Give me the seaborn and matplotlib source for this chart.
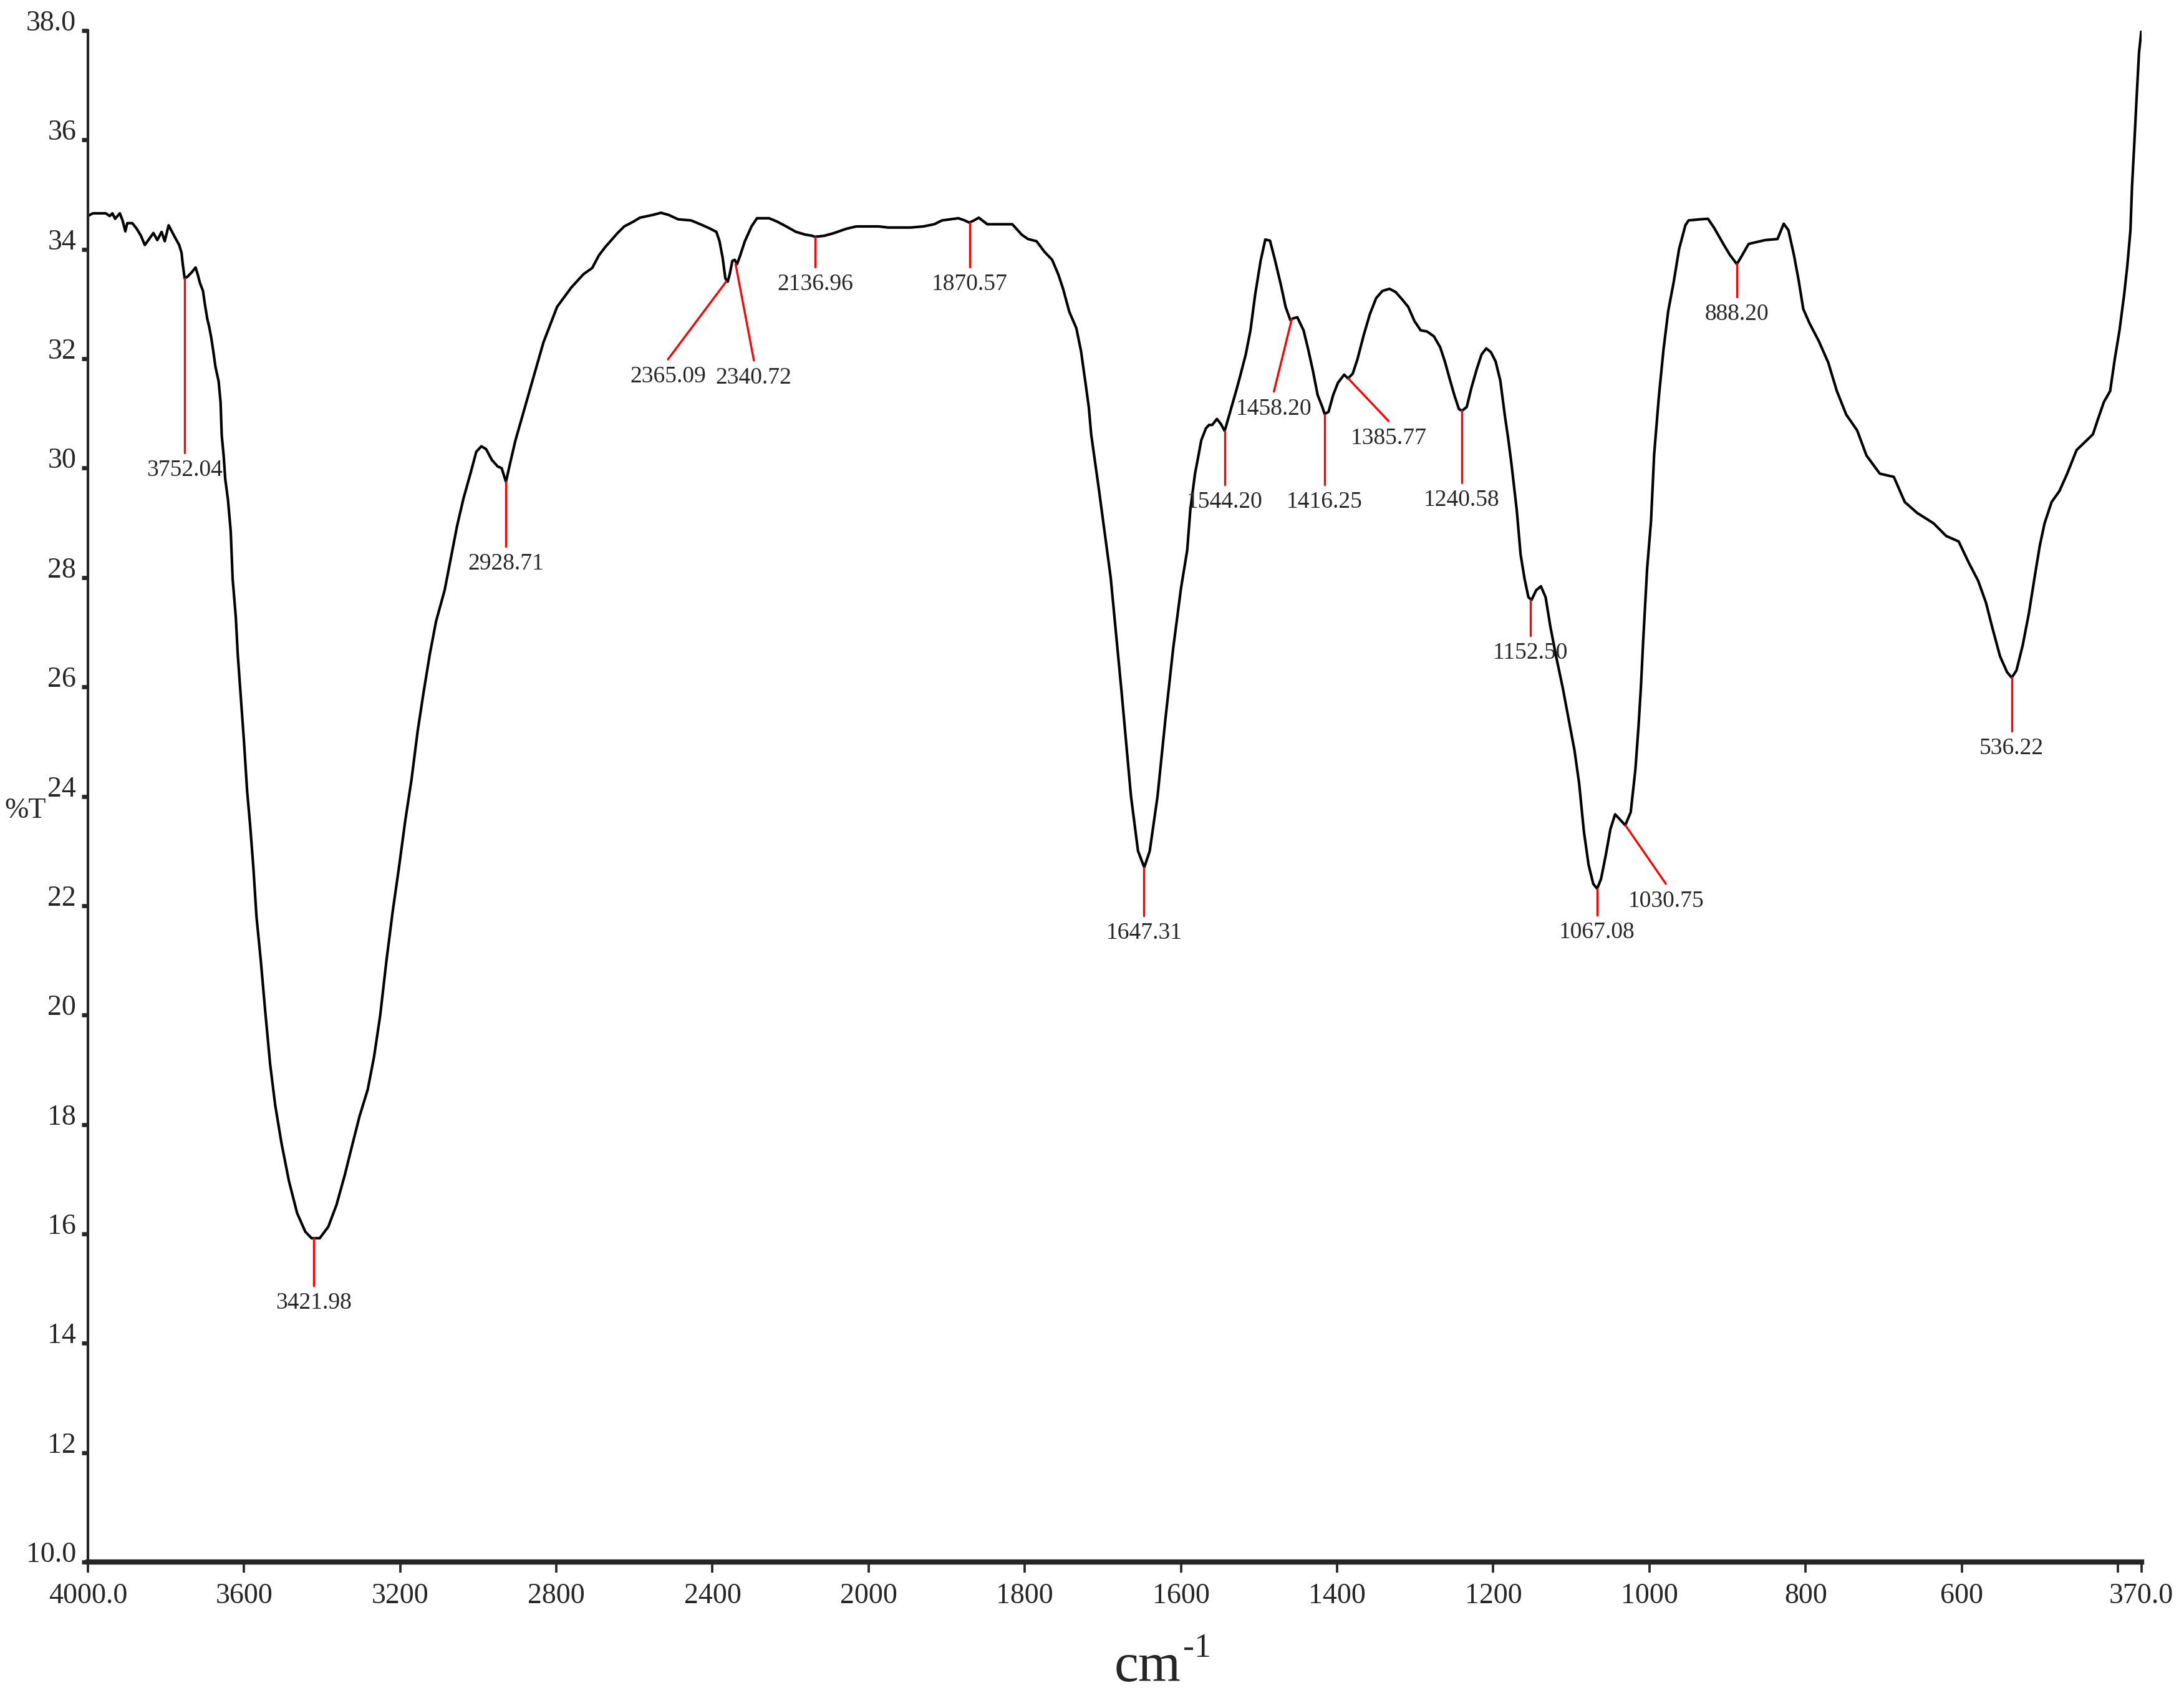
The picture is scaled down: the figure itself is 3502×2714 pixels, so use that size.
import numpy as np
import seaborn as sns
import matplotlib.pyplot as plt
from matplotlib.ticker import FixedLocator, FixedFormatter

# spectrum (cm-1, %T)
wavenumber = [4000, 3987, 3954, 3944, 3937, 3930, 3918, 3911, 3904, 3899, 3886, 3875, 3864, 3854,
              3843, 3832, 3822, 3811, 3803, 3793, 3779, 3766, 3760, 3757, 3752, 3745, 3734, 3724,
              3718, 3713, 3705, 3700, 3694, 3689, 3684, 3679, 3673, 3665, 3660, 3657, 3652, 3648,
              3641, 3634, 3629, 3621, 3616, 3608, 3600, 3592, 3584, 3576, 3568, 3557, 3546, 3533,
              3520, 3504, 3485, 3464, 3443, 3427, 3406, 3384, 3363, 3342, 3320, 3304, 3283, 3267,
              3251, 3235, 3219, 3203, 3187, 3171, 3155, 3140, 3124, 3108, 3086, 3070, 3054, 3038,
              3020, 3005, 2992, 2980, 2965, 2950, 2940, 2929, 2918, 2905, 2869, 2833, 2798, 2762,
              2730, 2708, 2691, 2675, 2659, 2643, 2626, 2602, 2586, 2553, 2532, 2512, 2488, 2455,
              2431, 2406, 2390, 2382, 2374, 2367, 2361, 2356, 2349, 2343, 2337, 2329, 2317, 2300,
              2286, 2255, 2235, 2211, 2186, 2162, 2145, 2137, 2113, 2088, 2056, 2031, 2000, 1987,
              1975, 1946, 1930, 1916, 1906, 1885, 1877, 1871, 1865, 1859, 1848, 1816, 1804, 1796,
              1785, 1775, 1765, 1757, 1751, 1743, 1734, 1728, 1722, 1718, 1715, 1705, 1690, 1676,
              1664, 1655, 1647, 1640, 1630, 1620, 1610, 1600, 1592, 1588, 1582, 1578, 1574, 1568,
              1564, 1560, 1554, 1549, 1544, 1537, 1529, 1525, 1517, 1511, 1505, 1498, 1492, 1486,
              1480, 1472, 1466, 1460, 1456, 1451, 1443, 1437, 1431, 1425, 1419, 1416, 1411, 1405,
              1399, 1391, 1386, 1380, 1374, 1366, 1358, 1350, 1342, 1333, 1325, 1317, 1309, 1301,
              1293, 1285, 1276, 1268, 1262, 1256, 1250, 1244, 1240, 1234, 1228, 1221, 1215, 1209,
              1203, 1197, 1191, 1185, 1181, 1177, 1170, 1165, 1160, 1155, 1151, 1145, 1139, 1133,
              1127, 1120, 1111, 1104, 1096, 1090, 1084, 1078, 1072, 1067, 1062, 1056, 1050, 1044,
              1038, 1031, 1024, 1018, 1014, 1011, 1008, 1003, 998, 994, 988, 982, 976, 969, 962,
              954, 950, 935, 925, 917, 905, 897, 888, 881, 873, 864, 852, 836, 828, 822, 815, 809,
              803, 795, 783, 771, 760, 748, 734, 722, 705, 687, 673, 657, 636, 620, 604, 591, 579,
              569, 561, 551, 542, 536, 530, 522, 514, 506, 500, 494, 485, 475, 465, 453, 445, 432,
              426, 418, 410, 404, 398, 392, 388, 384, 382, 379, 376, 373, 370]
transmittance = [34.61, 34.66, 34.66, 34.61, 34.66, 34.56, 34.66, 34.53, 34.33, 34.48, 34.48,
                 34.38, 34.25, 34.08, 34.19, 34.30, 34.17, 34.32, 34.15, 34.44, 34.25, 34.08,
                 33.94, 33.74, 33.47, 33.50, 33.58, 33.67, 33.53, 33.39, 33.24, 32.99, 32.73,
                 32.58, 32.39, 32.16, 31.85, 31.59, 31.21, 30.60, 30.22, 29.80, 29.42, 28.85,
                 27.97, 27.28, 26.60, 25.80, 25.00, 24.10, 23.45, 22.70, 21.80, 21.00, 20.10,
                 19.10, 18.35, 17.66, 16.97, 16.38, 16.04, 15.92, 15.92, 16.13, 16.53, 17.07,
                 17.70, 18.15, 18.64, 19.23, 20.00, 21.00, 21.90, 22.70, 23.55, 24.30, 25.20,
                 25.90, 26.60, 27.20, 27.77, 28.36, 28.95, 29.44, 29.90, 30.30, 30.40, 30.35,
                 30.15, 30.03, 30.00, 29.75, 30.10, 30.50, 31.40, 32.30, 32.95, 33.30, 33.55,
                 33.66, 33.89, 34.04, 34.17, 34.30, 34.42, 34.51, 34.58, 34.63, 34.67, 34.63,
                 34.55, 34.53, 34.46, 34.38, 34.32, 34.15, 33.85, 33.47, 33.41, 33.54, 33.79,
                 33.81, 33.73, 33.89, 34.15, 34.42, 34.57, 34.57, 34.51, 34.42, 34.32, 34.27,
                 34.25, 34.23, 34.25, 34.30, 34.38, 34.42, 34.42, 34.42, 34.40, 34.40, 34.42,
                 34.46, 34.53, 34.57, 34.53, 34.49, 34.53, 34.58, 34.46, 34.46, 34.27, 34.19,
                 34.15, 33.96, 33.81, 33.54, 33.28, 32.86, 32.56, 32.14, 31.53, 31.11, 30.62,
                 29.60, 28.00, 25.90, 24.00, 23.00, 22.70, 23.00, 24.00, 25.40, 26.70, 27.80,
                 28.50, 29.24, 29.90, 30.20, 30.51, 30.73, 30.79, 30.79, 30.90, 30.81, 30.68,
                 31.03, 31.43, 31.64, 32.08, 32.52, 33.17, 33.79, 34.18, 34.16, 33.83, 33.35,
                 32.95, 32.71, 32.74, 32.76, 32.52, 32.17, 31.78, 31.34, 31.12, 30.99, 31.03,
                 31.34, 31.56, 31.71, 31.64, 31.73, 31.99, 32.43, 32.82, 33.11, 33.24, 33.28,
                 33.22, 33.09, 32.95, 32.69, 32.52, 32.50, 32.41, 32.21, 31.95, 31.64, 31.34,
                 31.08, 31.05, 31.12, 31.47, 31.82, 32.08, 32.19, 32.12, 31.95, 31.60, 30.94,
                 30.55, 30.11, 29.24, 28.42, 27.98, 27.64, 27.59, 27.77, 27.84, 27.64, 27.11,
                 26.59, 25.98, 25.45, 24.84, 24.23, 23.36, 22.75, 22.40, 22.31, 22.49, 22.92,
                 23.40, 23.67, 23.58, 23.47, 23.71, 24.49, 25.28, 25.98, 26.85, 28.16, 29.03,
                 30.25, 31.30, 32.17, 32.87, 33.40, 34.01, 34.44, 34.53, 34.55, 34.56, 34.39,
                 34.09, 33.90, 33.73, 33.90, 34.10, 34.13, 34.17, 34.19, 34.47, 34.35, 33.90,
                 33.44, 32.91, 32.65, 32.32, 31.93, 31.41, 30.98, 30.69, 30.23, 29.90, 29.84,
                 29.38, 29.18, 28.99, 28.76, 28.66, 28.27, 27.94, 27.54, 27.09, 26.56, 26.27,
                 26.17, 26.30, 26.76, 27.35, 28.07, 28.59, 28.99, 29.38, 29.58, 29.90, 30.33,
                 30.44, 30.62, 30.88, 31.21, 31.41, 32.00, 32.52, 33.18, 33.70, 34.35, 35.14,
                 35.95, 36.80, 37.60, 38.00]

# peak picks: label, peak position, end of the red leader line
peak_labels = ["3752.04", "3421.98", "2928.71", "2365.09", "2340.72", "2136.96", "1870.57",
               "1647.31", "1544.20", "1458.20", "1416.25", "1385.77", "1240.58", "1152.50",
               "1067.08", "1030.75", "888.20", "536.22"]
peak_x = [3752.04, 3421.98, 2928.71, 2365.09, 2340.72, 2136.96, 1870.57, 1647.31, 1544.20,
          1458.20, 1416.25, 1385.77, 1240.58, 1152.50, 1067.08, 1030.75, 888.20, 536.22]
peak_y = [33.47, 15.92, 29.75, 33.41, 33.73, 34.23, 34.49, 22.70, 30.68, 32.72, 30.99, 31.64,
          31.05, 27.59, 22.31, 23.47, 33.73, 26.17]
lead_x = [3752.04, 3421.98, 2928.71, 2514, 2294, 2136.96, 1870.57, 1647.31, 1544.20, 1481,
          1416.25, 1334, 1240.58, 1152.50, 1067.08, 979, 888.20, 536.22]
lead_y = [30.28, 15.05, 28.57, 31.99, 31.97, 33.68, 33.68, 21.82, 29.70, 31.40, 29.70, 30.86,
          29.73, 26.94, 21.83, 22.40, 33.13, 25.19]

x_ticks = [4000, 3600, 3200, 2800, 2400, 2000, 1800, 1600, 1400, 1200, 1000, 800, 600, 400, 370]
x_ticklabels = ["4000.0", "3600", "3200", "2800", "2400", "2000", "1800", "1600", "1400",
                "1200", "1000", "800", "600", "", "370.0"]
y_ticks = list(range(10, 39, 2))
y_ticklabels = ["10.0"] + [str(v) for v in y_ticks[1:-1]] + ["38.0"]

sns.set_style("ticks")
plt.rcParams["font.family"] = ["Liberation Serif", "DejaVu Serif"]


# instrument-style axis: 4000-2000 compressed by half
def fwd(x):
    x = np.asarray(x, dtype=float)
    return np.where(x > 2000, 2000 + (x - 2000) / 2, x)


def inv(u):
    u = np.asarray(u, dtype=float)
    return np.where(u > 2000, 2000 + 2 * (u - 2000), u)


fig = plt.figure(figsize=(3503 / 300, 2714 / 300), dpi=300)
ax = fig.add_axes([0.0402, 0.0774, 0.940, 0.9045])
ax.set_xscale("function", functions=(fwd, inv))

sns.lineplot(x=wavenumber, y=transmittance, sort=False, estimator=None,
             color="black", lw=1.0, ax=ax)

for lab, px, py, lx, ly in zip(peak_labels, peak_x, peak_y, lead_x, lead_y):
    ax.plot([px, lx], [py, ly], color="red", lw=0.8)
    ax.annotate(lab, xy=(lx, ly), xytext=(0, -2.5), textcoords="offset points",
                ha="center", va="top", fontsize=9)

ax.set_xlim(4000, 370)
ax.set_ylim(10, 38)
ax.xaxis.set_major_locator(FixedLocator(x_ticks))
ax.xaxis.set_major_formatter(FixedFormatter(x_ticklabels))
ax.xaxis.set_minor_locator(FixedLocator([]))
ax.yaxis.set_major_locator(FixedLocator(y_ticks))
ax.yaxis.set_major_formatter(FixedFormatter(y_ticklabels))

sns.despine(ax=ax)
ax.spines["bottom"].set_linewidth(2.0)
ax.spines["left"].set_linewidth(1.0)
ax.tick_params(axis="x", direction="out", length=4, width=0.9, pad=4, labelsize=11)
ax.tick_params(axis="y", direction="out", length=2.5, width=1.6, pad=2, labelsize=11)
for t in ax.get_yticklabels():
    t.set_verticalalignment("baseline")
ax.set_xlabel("")
ax.set_ylabel("")

fig.text(0.0115, 0.521, "%T", fontsize=11, ha="center", va="center")
fig.text(0.5405, 0.0150, "cm", fontsize=21, ha="right", va="center")
fig.text(0.5415, 0.0262, "-1", fontsize=13, ha="left", va="center")

fig.savefig("out.png", dpi=300, facecolor="white")
